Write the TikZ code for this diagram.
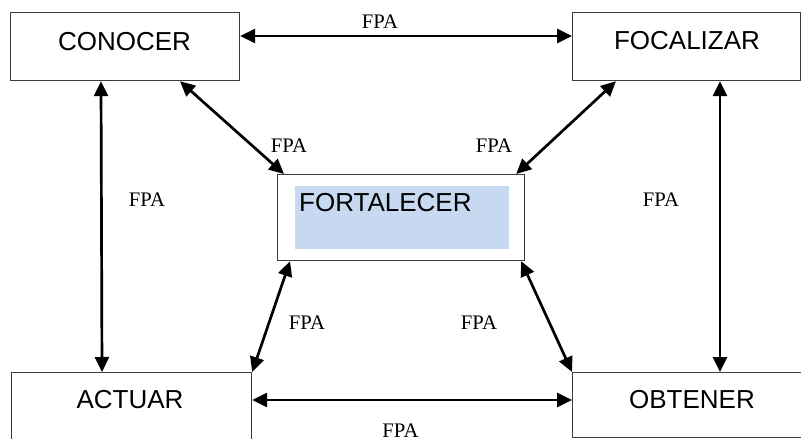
\documentclass[tikz,border=0pt]{standalone}
\usepackage{fontspec}
\setmainfont{Liberation Serif}
\newfontfamily\boxfont{Liberation Sans}
\usetikzlibrary{arrows.meta}
\definecolor{fortblue}{RGB}{198,217,241}
\definecolor{boxline}{RGB}{60,60,60}
\tikzset{
  stagebox/.style={draw=boxline, line width=1.2pt, fill=white, rectangle, inner sep=0pt, anchor=north west},
  stagetext/.style={font=\boxfont\fontsize{26pt}{30pt}\selectfont, inner sep=0pt, anchor=base},
  fpa/.style={font=\fontsize{20.7pt}{24pt}\selectfont, inner sep=0pt, anchor=base},
  link/.style={line width=2.7pt, {Triangle[length=15pt,width=14pt]}-{Triangle[length=15pt,width=14pt]}}
}
\begin{document}
\begin{tikzpicture}[x=1pt,y=-1pt]
\useasboundingbox (0,0) rectangle (801,439);
\fill[white] (0,0) rectangle (801,439);
% boxes
\node[stagebox, minimum width=229pt, minimum height=68pt] (con) at (10,12) {};
\node[stagebox, minimum width=228pt, minimum height=68pt] (foc) at (572,12) {};
\node[stagebox, minimum width=247pt, minimum height=86pt] (fort) at (277,174) {};
\node[fill=fortblue, inner sep=0pt, anchor=north west, minimum width=214pt, minimum height=63pt] (fortfill) at (295,186) {};
\node[stagebox, minimum width=240pt, minimum height=90pt] (act) at (11,372) {};
\node[stagebox, minimum width=240pt, minimum height=65pt] (obt) at (572,372) {};
% box texts
\node[stagetext] (conT) at (124.5,50) {CONOCER};
\node[stagetext] (focT) at (687,49) {FOCALIZAR};
\node[stagetext, anchor=base west] (fortT) at (299,211) {FORTALECER};
\node[stagetext] (actT) at (130,408) {ACTUAR};
\node[stagetext] (obtT) at (692,408) {OBTENER};
% connectors
\draw[link] ([yshift=-24pt]con.north east) -- ([yshift=-24pt]foc.north west);
\draw[link] ([yshift=-28pt]act.north east) -- ([yshift=-28pt]obt.north west);
\draw[link] ([xshift=91pt]act.north west) -- ([xshift=91pt]con.south west);
\draw[link] ([xshift=148pt]obt.north west) -- ([xshift=148pt]foc.south west);
\draw[link] ([xshift=170pt]con.south west) -- ([xshift=7pt]fort.north west);
\draw[link] ([xshift=44pt]foc.south west) -- ([xshift=-9pt]fort.north east);
\draw[link] ([xshift=13pt]fort.south west) -- (act.north east);
\draw[link] ([xshift=-4pt]fort.south east) -- (obt.north west);
% labels
\node[fpa] (l1) at (380,28) {FPA};
\node[fpa] (l2) at (289,152) {FPA};
\node[fpa] (l3) at (494,152) {FPA};
\node[fpa] (l4) at (147,206) {FPA};
\node[fpa] (l5) at (661,206) {FPA};
\node[fpa] (l6) at (307,329) {FPA};
\node[fpa] (l7) at (479,329) {FPA};
\node[fpa] (l8) at (400.5,437) {FPA};
\end{tikzpicture}
\end{document}
